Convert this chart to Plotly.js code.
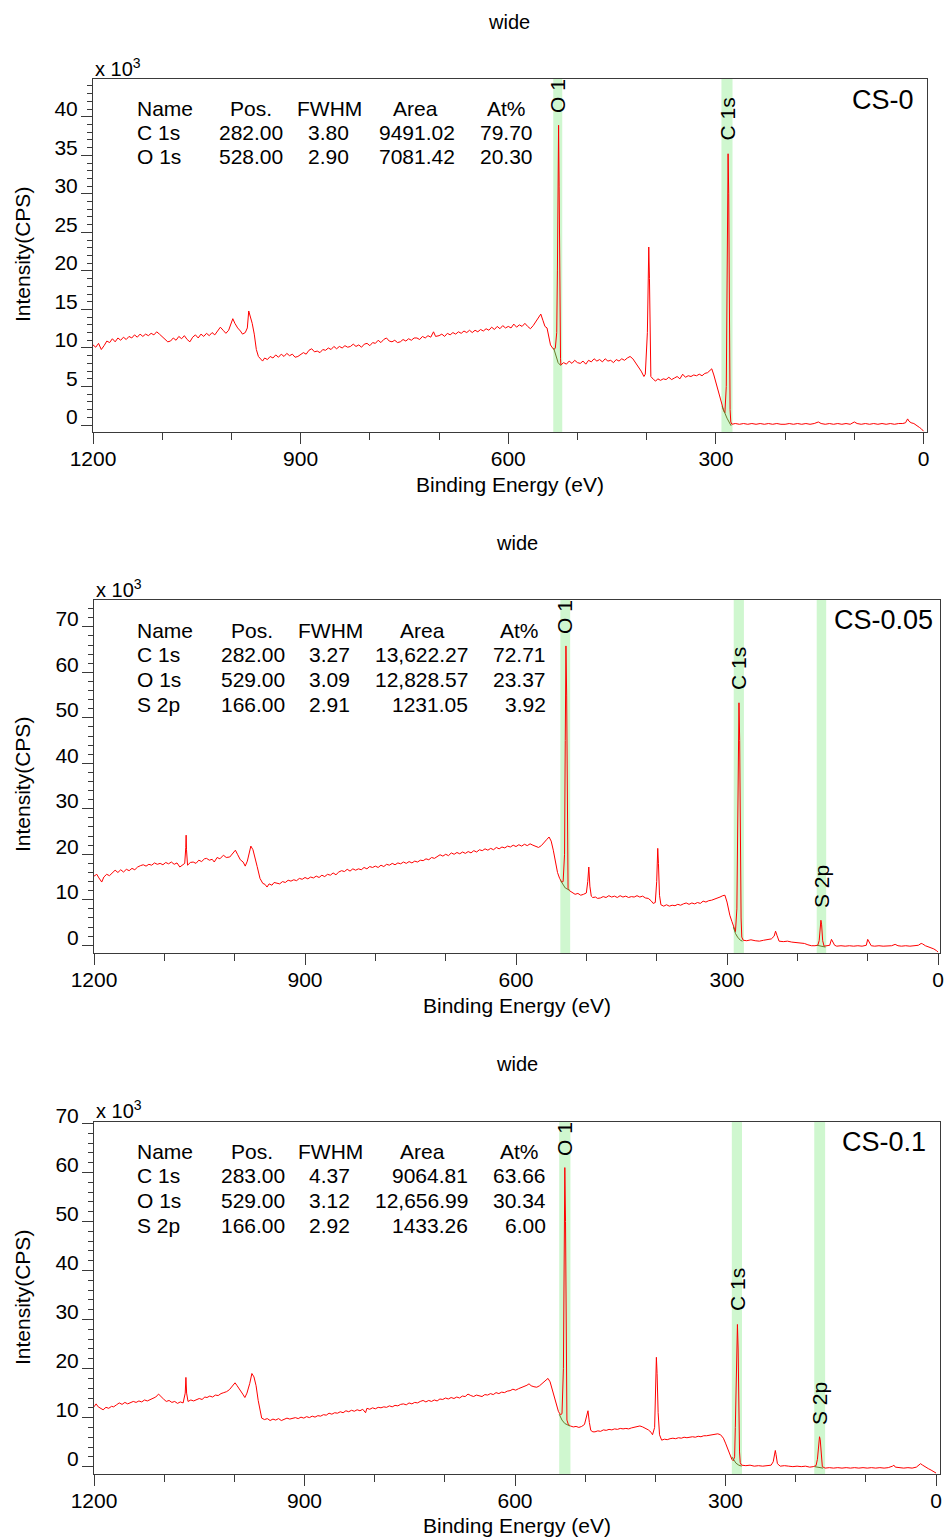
<!DOCTYPE html>
<html><head><meta charset="utf-8">
<script src="https://cdn.plot.ly/plotly-3.0.1.min.js"></script>
<style>html,body{margin:0;padding:0;background:#fff}</style>
</head><body><div id="chart" style="width:944px;height:1539px"></div>
<script>
// ---------------- DATA (intensity in units of 10^3 CPS) ----------------
const cs0_points = [[1200,10.4],[1196,10.1],[1192,10.6],[1188,9.8],[1184,10.3],[1180,10.9],[1176,10.7],[1172,11.2],[1168,10.8],[1164,11.3],[1160,11.0],[1156,11.4],[1152,11.1],[1148,11.5],[1144,11.3],[1140,11.7],[1136,11.4],[1132,11.8],[1128,11.5],[1124,11.8],[1120,11.6],[1116,11.9],[1112,11.7],[1108,12.1],[1104,11.8],[1100,11.5],[1096,11.1],[1092,10.8],[1088,10.9],[1084,11.3],[1080,11.0],[1076,11.5],[1072,11.2],[1068,11.6],[1064,11.1],[1060,10.8],[1056,11.4],[1052,11.7],[1048,11.3],[1044,11.8],[1040,11.5],[1036,11.9],[1032,11.6],[1028,12.0],[1024,11.7],[1020,12.2],[1016,12.7],[1012,12.3],[1008,11.9],[1004,12.3],[1000,13.4],[998,13.8],[995,13.2],[991,12.6],[987,12.2],[984,11.8],[980,12.0],[977,12.6],[975,14.8],[973,14.2],[970,13.2],[967,11.8],[964,9.8],[961,8.9],[958,8.6],[955,8.3],[952,8.7],[948,8.5],[944,8.9],[940,8.7],[936,9.1],[932,8.8],[928,9.2],[924,8.9],[920,9.3],[916,9.0],[912,9.2],[908,8.8],[904,8.9],[900,9.1],[896,9.4],[892,9.2],[888,9.7],[884,9.9],[880,9.5],[876,9.6],[872,9.4],[868,9.8],[864,9.7],[860,10.0],[856,9.8],[852,10.2],[848,9.9],[844,10.2],[840,10.0],[836,10.3],[832,10.1],[828,10.2],[824,10.5],[820,10.2],[816,10.4],[812,10.1],[808,10.5],[804,10.6],[800,10.3],[796,10.7],[792,10.6],[788,11.0],[784,10.7],[780,11.1],[776,11.3],[772,10.9],[768,10.8],[764,11.0],[760,10.7],[756,10.8],[752,11.1],[748,10.9],[744,11.2],[740,11.0],[736,11.3],[732,11.3],[728,11.1],[724,11.5],[720,11.3],[716,11.6],[712,11.4],[708,12.1],[705,11.5],[700,11.6],[696,11.8],[692,11.5],[688,11.9],[684,11.7],[680,12.0],[676,11.8],[672,12.1],[668,11.9],[664,12.2],[660,12.0],[656,12.3],[652,12.0],[648,12.3],[644,12.1],[640,12.4],[636,12.2],[632,12.5],[628,12.3],[624,12.7],[620,12.4],[616,12.8],[612,12.5],[608,12.9],[604,12.6],[600,12.8],[596,12.6],[592,13.1],[588,12.7],[584,13.0],[580,12.8],[576,13.2],[572,12.8],[568,12.5],[564,12.9],[560,13.4],[556,13.9],[553,14.4],[550,13.6],[547,12.8],[544,12.6],[541,11.5],[539,10.4],[536,10.0],[534,9.8],[532,10.0],[530,12.0],[529,20.0],[528,33.0],[527.3,38.9],[526.5,31.0],[525.5,14.0],[524.5,8.6],[524,7.8],[520,8.1],[516,7.9],[512,8.3],[508,8.0],[504,8.4],[500,8.1],[496,8.0],[492,8.3],[488,7.9],[484,8.4],[480,8.2],[476,8.6],[472,8.3],[468,8.5],[464,8.2],[460,8.6],[456,8.3],[452,8.4],[448,8.1],[444,8.5],[440,8.3],[436,8.6],[432,8.4],[428,8.7],[424,8.9],[420,8.6],[416,8.1],[412,7.6],[408,7.0],[404,6.3],[402,6.6],[399,12.0],[398,21.0],[397,23.1],[396,19.0],[395,10.0],[394,6.3],[390,5.9],[387,5.7],[384,6.0],[380,5.8],[376,6.0],[372,5.9],[368,6.2],[364,5.9],[360,6.1],[356,6.3],[352,6.0],[348,6.6],[344,6.2],[340,6.4],[336,6.3],[332,6.5],[328,6.4],[324,6.6],[320,6.4],[316,6.7],[312,6.8],[308,7.2],[306,7.3],[303,6.5],[300,5.6],[297,4.6],[294,3.5],[291,2.6],[289,1.9],[287,1.6],[285,5.0],[284,18.0],[283,32.0],[282.4,35.2],[281.5,30.0],[280.5,12.0],[279.5,2.0],[278.5,0.4],[277,0.1],[272,0.2],[266,0.1],[260,0.2],[254,0.1],[248,0.2],[242,0.1],[236,0.2],[230,0.1],[224,0.2],[218,0.1],[212,0.2],[206,0.1],[200,0.1],[194,0.2],[188,0.1],[182,0.2],[176,0.1],[170,0.2],[164,0.1],[158,0.2],[152,0.4],[148,0.2],[142,0.1],[136,0.2],[130,0.1],[124,0.2],[118,0.1],[112,0.2],[106,0.1],[100,0.4],[96,0.2],[90,0.1],[84,0.2],[78,0.1],[72,0.2],[66,0.1],[60,0.2],[54,0.1],[48,0.2],[42,0.1],[36,0.2],[30,0.2],[26,0.3],[23,0.8],[21,0.5],[18,0.3],[14,0.2],[10,0.0],[6,-0.3],[3,-0.5],[0,-0.8]];

const cs005_points = [[1200,15.2],[1196,15.6],[1193,14.8],[1189,13.9],[1186,15.0],[1182,15.6],[1178,15.3],[1174,16.0],[1170,16.5],[1166,16.0],[1162,16.6],[1158,16.1],[1154,16.7],[1150,16.4],[1146,16.9],[1142,16.6],[1138,17.2],[1134,17.5],[1130,17.7],[1126,17.4],[1122,17.8],[1118,17.6],[1114,18.1],[1110,17.8],[1106,18.0],[1102,17.7],[1098,18.2],[1094,17.9],[1090,18.3],[1086,17.8],[1082,18.1],[1078,17.2],[1074,17.6],[1071,18.0],[1069.5,21.5],[1069,24.2],[1068.5,21.0],[1067,17.6],[1063,18.2],[1059,18.3],[1055,18.0],[1051,18.7],[1047,18.4],[1043,19.0],[1040,19.1],[1036,18.7],[1032,18.9],[1029,18.3],[1025,19.3],[1021,19.0],[1016,19.8],[1012,19.3],[1007,19.4],[1003,20.1],[999,20.9],[996,20.0],[992,18.8],[988,18.3],[985,17.4],[982,18.5],[979,20.4],[977,21.8],[974,21.0],[971,19.4],[968,17.3],[964,14.7],[960,13.6],[957,13.4],[954,12.8],[951,13.5],[947,13.2],[944,13.8],[940,13.7],[936,13.5],[932,14.0],[928,13.8],[924,14.3],[920,14.1],[916,14.4],[912,14.2],[908,14.7],[904,14.5],[900,14.9],[896,14.6],[892,15.0],[888,14.8],[884,15.2],[880,14.9],[876,15.4],[872,15.1],[868,15.6],[864,15.4],[860,15.9],[856,15.5],[852,16.1],[848,16.4],[844,16.2],[840,16.7],[836,16.3],[832,16.8],[828,16.5],[824,16.8],[820,16.6],[816,17.1],[812,16.8],[808,17.3],[804,17.1],[800,17.4],[796,17.1],[792,17.6],[788,17.3],[784,17.8],[780,17.6],[776,18.0],[772,17.7],[768,18.1],[764,17.9],[760,18.3],[756,18.0],[752,18.4],[748,18.1],[744,18.5],[740,18.3],[736,18.7],[732,18.6],[728,19.0],[724,18.8],[720,19.3],[716,19.1],[712,19.5],[708,19.9],[704,19.6],[700,20.0],[696,19.7],[692,20.3],[688,20.0],[684,20.4],[680,20.1],[676,20.5],[672,20.2],[668,20.6],[664,20.3],[660,20.8],[656,20.5],[652,21.0],[648,20.8],[644,21.2],[640,20.9],[636,21.3],[632,21.0],[628,21.5],[624,21.2],[620,21.6],[616,21.4],[612,21.8],[608,21.6],[604,22.0],[600,21.7],[596,22.1],[592,21.8],[588,22.2],[584,21.9],[580,22.3],[576,22.0],[572,21.8],[568,21.5],[564,21.9],[560,22.5],[556,23.3],[553,23.8],[550,22.9],[547,20.9],[544,18.5],[541,16.0],[538,14.7],[535,13.9],[533,14.0],[531,20.0],[530,45.0],[529,65.8],[528,55.0],[527,25.0],[526,12.5],[524,12.0],[520,11.6],[516,11.2],[512,11.4],[508,11.0],[504,11.2],[500,11.5],[498,14.0],[496.5,17.2],[495,13.0],[493,10.8],[491,10.5],[487,10.6],[484,10.3],[480,10.4],[476,10.7],[472,10.5],[468,10.9],[464,10.6],[460,10.8],[456,10.5],[452,10.9],[448,10.6],[444,10.8],[440,10.5],[436,10.7],[432,10.6],[428,10.9],[424,10.6],[420,10.8],[416,10.4],[412,10.3],[408,9.8],[405,9.2],[402,9.4],[400,14.0],[398.5,21.3],[397.5,18.0],[396,11.0],[394,8.9],[390,8.6],[386,8.9],[382,8.6],[378,8.8],[374,8.7],[370,9.0],[366,8.8],[362,9.1],[358,9.3],[354,9.0],[350,9.3],[346,9.1],[342,9.4],[338,9.2],[334,9.7],[330,9.5],[326,9.8],[322,9.9],[318,10.1],[314,10.4],[310,10.6],[306,10.9],[303,11.0],[300,9.5],[298,7.9],[296,6.6],[293,5.2],[290,3.6],[288,3.0],[286,8.0],[285,25.0],[284,45.0],[283,53.3],[282,45.0],[281,22.0],[280,6.0],[279,1.8],[277,1.1],[272,1.0],[266,1.2],[260,1.0],[254,0.9],[248,1.1],[242,1.2],[237,1.4],[233,2.0],[231,3.1],[229,2.2],[226,0.9],[220,0.8],[214,0.9],[208,0.7],[202,0.6],[196,0.5],[190,0.4],[185,0.1],[180,-0.1],[175,-0.1],[171,0.0],[169,1.0],[167.5,4.0],[166.5,5.5],[165.5,4.5],[164,1.0],[162,-0.2],[158,-0.1],[154,0.0],[151.5,1.3],[150,0.8],[147,0.0],[144,-0.2],[138,-0.1],[132,-0.2],[126,-0.1],[120,-0.2],[114,-0.1],[108,-0.2],[102,0.0],[100,1.3],[98,0.6],[95,-0.1],[90,-0.2],[84,-0.1],[78,-0.2],[72,-0.1],[66,-0.1],[61,0.2],[57,-0.1],[52,-0.2],[46,-0.1],[40,-0.2],[34,-0.1],[28,0.0],[24,0.4],[22,0.3],[18,-0.1],[14,-0.3],[10,-0.5],[6,-0.8],[2,-1.2],[0,-1.5]];

const cs01_points = [[1200,12.2],[1197,12.8],[1194,12.2],[1190,11.8],[1187,11.6],[1183,12.1],[1179,11.9],[1175,12.3],[1172,12.2],[1168,12.6],[1164,13.0],[1160,12.7],[1156,13.1],[1152,12.8],[1148,13.0],[1144,13.3],[1140,13.1],[1136,13.4],[1132,13.2],[1128,13.6],[1124,13.4],[1120,13.7],[1116,13.9],[1112,14.2],[1108,14.8],[1105,14.3],[1101,13.8],[1097,13.3],[1093,13.5],[1089,13.1],[1085,13.3],[1081,12.9],[1077,13.2],[1073,13.0],[1070,15.0],[1069,18.2],[1068,15.0],[1066,13.3],[1062,13.6],[1058,13.4],[1054,13.6],[1050,13.9],[1046,13.7],[1042,14.2],[1039,14.1],[1035,14.4],[1031,14.2],[1027,14.6],[1023,14.5],[1019,14.9],[1015,15.1],[1011,15.3],[1007,15.7],[1003,16.3],[999,17.1],[996,16.5],[992,15.5],[988,14.8],[985,14.1],[982,15.0],[978,17.0],[975,19.0],[972,18.3],[969,16.5],[966,13.5],[963,11.2],[961,9.9],[957,9.6],[953,9.8],[949,9.4],[945,9.7],[941,9.5],[937,9.8],[933,9.4],[929,9.6],[925,9.9],[921,9.7],[917,9.9],[913,10.0],[909,9.8],[905,10.1],[901,9.9],[897,10.2],[893,10.0],[889,10.3],[885,10.1],[881,10.4],[877,10.3],[873,10.6],[869,10.5],[865,10.9],[861,10.7],[857,11.0],[853,10.9],[849,11.2],[845,11.0],[841,11.4],[837,11.2],[833,11.5],[829,11.3],[825,11.6],[821,11.4],[817,11.7],[813,11.0],[811,11.9],[807,11.7],[803,12.0],[799,11.8],[795,12.1],[791,12.0],[787,12.2],[783,12.1],[779,12.4],[775,12.2],[771,12.5],[767,12.4],[763,12.7],[759,12.8],[755,12.6],[751,13.0],[747,12.8],[743,13.1],[739,13.0],[735,13.3],[731,13.5],[727,13.2],[723,13.5],[719,13.3],[715,13.6],[711,13.4],[707,13.8],[703,13.7],[699,14.0],[695,13.8],[691,14.1],[687,13.9],[683,14.2],[679,14.0],[675,14.4],[671,14.3],[667,14.8],[663,14.5],[659,14.3],[655,14.6],[651,14.4],[647,14.3],[643,14.7],[639,14.6],[635,14.9],[631,14.7],[627,15.1],[623,14.9],[619,15.2],[615,15.1],[611,15.4],[607,15.5],[603,15.8],[599,15.6],[595,15.9],[591,16.1],[587,16.4],[583,16.6],[580,16.9],[577,16.5],[573,16.3],[569,16.2],[565,16.5],[561,17.0],[557,17.5],[553,18.0],[550,17.3],[547,15.8],[544,14.6],[541,12.8],[538,11.2],[535,10.6],[533,10.8],[531,20.0],[530,45.0],[529,61.0],[528,50.0],[527,22.0],[526,9.5],[524,8.6],[521,8.3],[517,8.1],[513,8.2],[509,8.0],[505,8.2],[501,8.6],[498,10.0],[496,11.4],[494,9.0],[492,7.4],[489,7.1],[486,7.1],[482,7.3],[478,7.2],[474,7.5],[470,7.4],[466,7.6],[462,7.5],[458,7.7],[454,7.6],[450,7.8],[446,7.7],[442,7.8],[438,7.7],[434,7.9],[430,8.0],[426,8.2],[422,8.3],[418,8.1],[414,7.8],[410,7.5],[406,7.0],[404,6.5],[401,8.0],[399.5,16.0],[398.5,22.3],[397.5,19.0],[396,11.0],[394,6.5],[391,5.4],[387,5.6],[383,5.5],[379,5.7],[375,5.8],[371,5.7],[367,5.9],[363,5.8],[359,6.0],[355,5.9],[351,6.0],[347,6.1],[343,6.0],[339,6.2],[335,6.1],[331,6.3],[327,6.3],[323,6.4],[319,6.4],[315,6.6],[311,6.7],[307,6.5],[303,5.8],[300,4.8],[297,3.6],[294,2.4],[291,1.5],[289,1.2],[287,2.0],[286,8.0],[285,18.0],[284,26.0],[283,29.0],[282,24.0],[281,12.0],[280,3.0],[279,0.8],[277,0.3],[271,0.2],[265,0.3],[259,0.1],[253,0.2],[247,0.1],[241,0.2],[235,0.3],[232,1.0],[230,2.5],[229,3.3],[228,2.5],[226,0.6],[222,0.1],[216,0.2],[210,0.1],[204,0.0],[198,0.1],[192,0.0],[186,0.1],[180,-0.1],[175,0.0],[171,0.2],[169,1.5],[167,4.5],[166,6.1],[165,5.5],[163.5,2.0],[162,0.0],[158,-0.3],[152,-0.2],[146,-0.3],[140,-0.2],[134,-0.3],[128,-0.2],[122,-0.3],[116,-0.2],[110,-0.3],[104,-0.2],[98,-0.3],[92,-0.2],[86,-0.3],[80,-0.2],[74,-0.3],[68,-0.2],[62,0.1],[60,0.3],[58,-0.1],[52,-0.2],[46,-0.3],[40,-0.2],[34,-0.3],[28,-0.1],[25,0.3],[22,0.6],[19,0.3],[15,-0.1],[11,-0.4],[7,-0.7],[3,-1.0],[0,-1.3]];

// background (fit) lines under the quantified peaks
const cs0_bg = [[[534.5,10.0],[531,9.0],[528,8.1],[524,7.7]], [[291,2.4],[287,1.4],[284,0.9],[281,0.4],[278,-0.1]]];
const cs005_bg = [[[537,14.3],[533,13.3],[530,12.6],[524,12.1]], [[291,4.0],[288,2.6],[285,1.8],[281,1.1],[278,0.9]], [[172,0.0],[166,-0.2],[160,-0.4]]];
const cs01_bg = [[[537,10.7],[533,9.5],[529,8.8],[522,8.3]], [[291,2.0],[288,1.2],[285,0.7],[281,0.3],[277,0.1]], [[173,0.0],[167,-0.2],[161,-0.3]]];

// quantification regions (eV)
const cs0_bands = [[522,535],[276,292]];
const cs005_bands = [[523,537],[276,290.5],[159,172.5]];
const cs01_bands = [[521,537],[276.5,291],[158,173.5]];

// quantification tables
const tableHeader = ['Name','Pos.','FWHM','Area','At%'];
const cs0_names = ['C 1s','O 1s'];
const cs0_pos = ['282.00','528.00'];
const cs0_fwhm = ['3.80','2.90'];
const cs0_area = ['9491.02','7081.42'];
const cs0_at = ['79.70','20.30'];
const cs005_names = ['C 1s','O 1s','S 2p'];
const cs005_pos = ['282.00','529.00','166.00'];
const cs005_fwhm = ['3.27','3.09','2.91'];
const cs005_area = ['13,622.27','12,828.57','1231.05'];
const cs005_at = ['72.71','23.37','3.92'];
const cs01_names = ['C 1s','O 1s','S 2p'];
const cs01_pos = ['283.00','529.00','166.00'];
const cs01_fwhm = ['4.37','3.12','2.92'];
const cs01_area = ['9064.81','12,656.99','1433.26'];
const cs01_at = ['63.66','30.34','6.00'];

const sampleNames = ['CS-0','CS-0.05','CS-0.1'];
const cs0_peakLabels = ['O 1','C 1s'];
const cs005_peakLabels = ['O 1','C 1s','S 2p'];
const cs01_peakLabels = ['O 1','C 1s','S 2p'];

// ---------------- LAYOUT / STYLE ----------------
const FONT = 'Liberation Sans, Arial, Helvetica, sans-serif';
const W = 944, H = 1539;
const fx = p => p / W, fy = p => 1 - p / H;
const AX = '#3a3a3a';

const panels = [
  {pts: cs0_points, bg: cs0_bg, bands: cs0_bands,
   tbl: [cs0_names, cs0_pos, cs0_fwhm, cs0_area, cs0_at], plabels: cs0_peakLabels,
   left: 93, right: 927, top: 79, bottom: 432, xr: [1200, -5], yr: [-0.9, 44.9], ydt: 5, ymin: 1,
   titleX: 509, titleY: 22, xlabY: 484, ylabY: 255, expY: 67,
   cols: {name: 135, posH: 251, pos: 285, fwhmH: 329.5, fwhm: 351, areaH: 415, area: 457, atH: 506, at: 535},
   rows: [109, 133, 157], sample: {x: 916, y: 100},
   plpos: [[557, 96], [727, 119.5]]},
  {pts: cs005_points, bg: cs005_bg, bands: cs005_bands,
   tbl: [cs005_names, cs005_pos, cs005_fwhm, cs005_area, cs005_at], plabels: cs005_peakLabels,
   left: 94, right: 940, top: 600, bottom: 953, xr: [1200, -2.8], yr: [-1.7, 75.9], ydt: 10, ymin: 2,
   titleX: 517, titleY: 543, xlabY: 1005, ylabY: 785, expY: 588,
   cols: {name: 135, posH: 252, pos: 287, fwhmH: 330, fwhm: 352, areaH: 422.5, area: 470, atH: 519.5, at: 548},
   rows: [630, 654, 679, 704], sample: {x: 935, y: 620},
   plpos: [[565, 617], [739, 669], [821, 887]]},
  {pts: cs01_points, bg: cs01_bg, bands: cs01_bands,
   tbl: [cs01_names, cs01_pos, cs01_fwhm, cs01_area, cs01_at], plabels: cs01_peakLabels,
   left: 94, right: 940, top: 1122, bottom: 1474, xr: [1200, -5.7], yr: [-1.5, 70.3], ydt: 10, ymin: 2,
   titleX: 517, titleY: 1064, xlabY: 1525, ylabY: 1298, expY: 1109,
   cols: {name: 135, posH: 252, pos: 287, fwhmH: 330, fwhm: 352, areaH: 422.5, area: 470, atH: 519.5, at: 548},
   rows: [1151, 1175, 1200, 1225], sample: {x: 928, y: 1142},
   plpos: [[564, 1139], [737, 1290], [819, 1404]]}
];

const traces = [], shapes = [], annotations = [];
const layout = {
  width: W, height: H, margin: {l: 0, r: 0, t: 0, b: 0},
  paper_bgcolor: '#fff', plot_bgcolor: '#fff', showlegend: false,
  font: {family: FONT, size: 21, color: '#000'}
};

function ann(text, x, y, o) {
  annotations.push(Object.assign({text: text, x: fx(x), y: fy(y), xref: 'paper', yref: 'paper',
    showarrow: false, xanchor: 'center', yanchor: 'middle',
    font: {family: FONT, size: 21, color: '#000'}}, o || {}));
}

panels.forEach((p, i) => {
  const sfx = i === 0 ? '' : String(i + 1);
  const xa = 'x' + sfx, ya = 'y' + sfx;
  layout['xaxis' + sfx] = {
    domain: [fx(p.left), fx(p.right)], anchor: ya, range: p.xr,
    showline: true, mirror: true, linecolor: AX, linewidth: 1,
    showgrid: false, zeroline: false,
    ticks: 'outside', ticklen: 11, tickwidth: 1, tickcolor: AX,
    tick0: 0, dtick: 300,
    minor: {ticks: 'outside', ticklen: 7, tickwidth: 1, tickcolor: AX, dtick: 100, showgrid: false},
    tickfont: {family: FONT, size: 21, color: '#000'}, ticklabelstandoff: -3
  };
  layout['yaxis' + sfx] = {
    domain: [fy(p.bottom), fy(p.top)], anchor: xa, range: p.yr,
    showline: true, mirror: true, linecolor: AX, linewidth: 1,
    showgrid: false, zeroline: false,
    ticks: 'outside', ticklen: 11, tickwidth: 1, tickcolor: AX,
    tick0: 0, dtick: p.ydt,
    minor: {ticks: 'outside', ticklen: 5, tickwidth: 1, tickcolor: AX, dtick: p.ymin, showgrid: false},
    tickfont: {family: FONT, size: 21, color: '#000'}, ticklabelshift: -8, ticklabelstandoff: -1
  };

  p.bands.forEach(b => shapes.push({type: 'rect', xref: xa, yref: ya + ' domain',
    x0: b[0], x1: b[1], y0: 0, y1: 1, fillcolor: '#cff7cf', line: {width: 0}, layer: 'below'}));

  traces.push({x: p.pts.map(d => d[0]), y: p.pts.map(d => d[1]), xaxis: xa, yaxis: ya,
    type: 'scatter', mode: 'lines', line: {color: '#ff0000', width: 1}, hoverinfo: 'skip'});
  p.bg.forEach(seg => traces.push({x: seg.map(d => d[0]), y: seg.map(d => d[1]), xaxis: xa, yaxis: ya,
    type: 'scatter', mode: 'lines', line: {color: '#6b7a2a', width: 1}, hoverinfo: 'skip'}));

  // titles
  ann('wide', p.titleX, p.titleY, {font: {family: FONT, size: 20, color: '#000'}});
  ann('Binding Energy (eV)', (p.left + p.right) / 2, p.xlabY);
  ann('Intensity(CPS)', 22, p.ylabY, {textangle: -90});
  ann('x 10<sup>3</sup>', p.left, p.expY, {xanchor: 'left', font: {family: FONT, size: 20, color: '#000'}});
  ann(sampleNames[i], p.sample.x, p.sample.y, {xanchor: 'right', font: {family: FONT, size: 27, color: '#000'}});

  // table
  const c = p.cols;
  const hx = [c.name, c.posH, c.fwhmH, c.areaH, c.atH];
  tableHeader.forEach((h, k) => ann(h, hx[k], p.rows[0], {xanchor: k === 0 ? 'left' : 'center'}));
  const vx = [c.name, c.pos, c.fwhm, c.area, c.at];
  p.tbl.forEach((col, k) => col.forEach((v, r) =>
    ann(v, vx[k], p.rows[r + 1], {xanchor: k === 0 ? 'left' : 'right'})));

  // peak labels
  p.plabels.forEach((t, k) => ann(t, p.plpos[k][0], p.plpos[k][1], {textangle: -90}));
});

layout.shapes = shapes;
layout.annotations = annotations;
Plotly.newPlot('chart', traces, layout, {staticPlot: true, displayModeBar: false});
</script></body></html>
